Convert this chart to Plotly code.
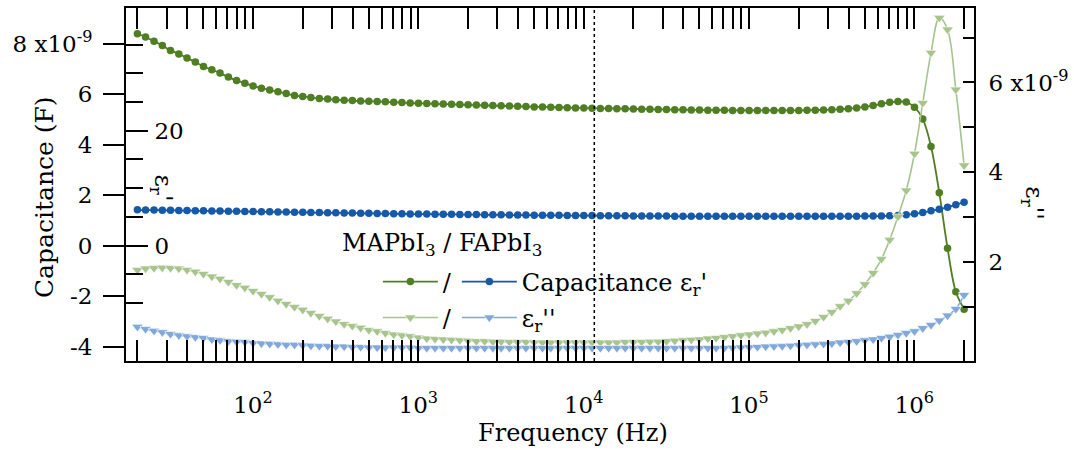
import plotly.graph_objects as go

# ---------------- data ----------------
freq_hz = [
    20.0, 22.4, 25.2, 28.3, 31.7, 35.6, 39.9, 44.8, 50.2, 56.4,
    63.2, 71.0, 79.6, 89.3, 100.2, 112.5, 126.2, 141.6, 158.9, 178.3,
    200, 224, 252, 283, 317, 356, 399, 448, 502, 564,
    632, 710, 796, 893, 1002, 1125, 1262, 1416, 1589, 1783,
    2000, 2244, 2518, 2825, 3170, 3557, 3991, 4477, 5024, 5637,
    6325, 7096, 7962, 8934, 10024, 11247, 12619, 14159, 15887, 17825,
    20000, 22440, 25179, 28251, 31698, 35566, 39905, 44774, 50238, 56368,
    63246, 70963, 79621, 89337, 100237, 112468, 126191, 141589, 158866, 178250,
    200000, 224404, 251785, 282508, 316979, 355656, 399052, 447744, 502377, 563677,
    632456, 709627, 796214, 893367, 1002374, 1124683, 1261915, 1415892, 1588656, 1782502,
    2000000,
]

# Capacitance (units of 1e-9 F)
cap_mapbi3 = [
    8.40, 8.27, 8.10, 7.93, 7.74, 7.60, 7.44, 7.28, 7.10, 6.97,
    6.84, 6.68, 6.55, 6.44, 6.33, 6.24, 6.17, 6.10, 6.03, 5.95,
    5.91, 5.87, 5.83, 5.81, 5.78, 5.76, 5.75, 5.73, 5.72, 5.71,
    5.70, 5.68, 5.67, 5.65, 5.64, 5.63, 5.62, 5.61, 5.60, 5.59,
    5.58, 5.57, 5.56, 5.55, 5.54, 5.53, 5.52, 5.51, 5.50, 5.50,
    5.49, 5.48, 5.47, 5.46, 5.46, 5.45, 5.44, 5.44, 5.43, 5.43,
    5.42, 5.41, 5.41, 5.40, 5.40, 5.39, 5.39, 5.38, 5.38, 5.37,
    5.37, 5.37, 5.36, 5.36, 5.36, 5.36, 5.36, 5.36, 5.36, 5.36,
    5.36, 5.37, 5.37, 5.38, 5.39, 5.41, 5.43, 5.46, 5.50, 5.55,
    5.62, 5.68, 5.71, 5.69, 5.49, 5.02, 3.93, 2.10, -0.10, -1.83,
    -2.52,
]
cap_fapbi3 = [
    1.42, 1.41, 1.41, 1.40, 1.40, 1.39, 1.39, 1.38, 1.38, 1.37,
    1.37, 1.36, 1.36, 1.35, 1.35, 1.34, 1.34, 1.33, 1.33, 1.32,
    1.32, 1.31, 1.31, 1.30, 1.30, 1.29, 1.29, 1.28, 1.28, 1.27,
    1.27, 1.26, 1.26, 1.25, 1.25, 1.25, 1.24, 1.24, 1.24, 1.23,
    1.23, 1.23, 1.22, 1.22, 1.22, 1.21, 1.21, 1.21, 1.20, 1.20,
    1.20, 1.20, 1.19, 1.19, 1.19, 1.19, 1.18, 1.18, 1.18, 1.18,
    1.17, 1.17, 1.17, 1.17, 1.17, 1.16, 1.16, 1.16, 1.16, 1.16,
    1.16, 1.16, 1.16, 1.16, 1.16, 1.16, 1.16, 1.16, 1.16, 1.16,
    1.16, 1.16, 1.16, 1.16, 1.16, 1.16, 1.16, 1.16, 1.17, 1.17,
    1.17, 1.18, 1.19, 1.22, 1.26, 1.31, 1.38, 1.44, 1.52, 1.62,
    1.72,
]

# epsilon_r'' (right axis, units of 1e-9)
eps2_mapbi3 = [
    1.82, 1.85, 1.86, 1.87, 1.86, 1.85, 1.82, 1.78, 1.73, 1.67,
    1.62, 1.55, 1.48, 1.42, 1.35, 1.28, 1.21, 1.13, 1.06, 0.99,
    0.93, 0.86, 0.79, 0.73, 0.67, 0.61, 0.57, 0.53, 0.48, 0.45,
    0.41, 0.38, 0.36, 0.34, 0.31, 0.29, 0.28, 0.27, 0.26, 0.25,
    0.24, 0.23, 0.23, 0.22, 0.22, 0.21, 0.21, 0.21, 0.20, 0.20,
    0.20, 0.20, 0.20, 0.20, 0.20, 0.20, 0.20, 0.20, 0.20, 0.21,
    0.21, 0.21, 0.22, 0.22, 0.23, 0.24, 0.25, 0.26, 0.27, 0.29,
    0.30, 0.32, 0.34, 0.36, 0.38, 0.40, 0.42, 0.45, 0.48, 0.52,
    0.56, 0.61, 0.68, 0.77, 0.88, 1.01, 1.13, 1.30, 1.50, 1.75,
    2.06, 2.49, 3.01, 3.59, 4.41, 5.54, 6.66, 7.44, 7.18, 5.84,
    4.15,
]
eps2_fapbi3 = [
    0.55, 0.50, 0.46, 0.43, 0.39, 0.36, 0.34, 0.32, 0.30, 0.27,
    0.25, 0.23, 0.22, 0.21, 0.19, 0.18, 0.17, 0.16, 0.15, 0.15,
    0.14, 0.13, 0.12, 0.12, 0.11, 0.11, 0.10, 0.10, 0.09, 0.09,
    0.09, 0.09, 0.09, 0.09, 0.08, 0.08, 0.08, 0.08, 0.08, 0.08,
    0.08, 0.08, 0.08, 0.08, 0.08, 0.08, 0.08, 0.08, 0.08, 0.08,
    0.08, 0.08, 0.08, 0.08, 0.08, 0.08, 0.08, 0.08, 0.08, 0.08,
    0.08, 0.08, 0.08, 0.08, 0.08, 0.08, 0.08, 0.08, 0.08, 0.08,
    0.08, 0.08, 0.085, 0.09, 0.095, 0.10, 0.11, 0.115, 0.12, 0.13,
    0.14, 0.15, 0.16, 0.17, 0.18, 0.20, 0.21, 0.23, 0.25, 0.27,
    0.30, 0.33, 0.37, 0.41, 0.45, 0.52, 0.59, 0.69, 0.80, 0.95,
    1.26,
]

marker_freq_hz = 11600

x_major_vals = [1e2, 1e3, 1e4, 1e5, 1e6]
x_major_text = ["10<sup>2</sup>", "10<sup>3</sup>", "10<sup>4</sup>", "10<sup>5</sup>", "10<sup>6</sup>"]
x_minor_vals = [m * 10 ** d for d in range(1, 7) for m in range(2, 10)]

left_vals = [-4, -2, 0, 2, 4, 6, 8]
left_text = ["-4", "-2", "0", "2", "4", "6", "8 x10<sup>-9</sup>"]
epsr1_vals = [0, 20]
epsr1_text = ["0", "20"]
epsr1_minor = [-10, -5, 5, 10, 15, 25, 30, 35]
right_vals = [2, 4, 6]
right_text = ["2", "4", "6 x10<sup>-9</sup>"]
right_minor = [1, 3, 5, 7]

# ---------------- style ----------------
FONT = "DejaVu Serif"
FS = 23
C_DG = "#4f7f22"
C_DB = "#1559a8"
C_LG = "#a6c48b"
C_LB = "#80a8da"

X_RANGE = [1.232, 6.361]
LEFT_RANGE = [-4.575, 9.42]
K_EPS = 20 / 4.552
RIGHT_RANGE = [-0.212, 7.66]

fig = go.Figure()

# circles on the base (left) capacitance axis
fig.add_trace(go.Scatter(
    x=freq_hz, y=cap_mapbi3, yaxis="y", mode="lines+markers",
    line=dict(color=C_DG, width=1.8, shape="spline"),
    marker=dict(symbol="circle", size=7.5, color=C_DG),
    name="/", legend="legend", legendrank=1,
))
fig.add_trace(go.Scatter(
    x=freq_hz, y=cap_fapbi3, yaxis="y", mode="lines+markers",
    line=dict(color=C_DB, width=1.8, shape="spline"),
    marker=dict(symbol="circle", size=7.5, color=C_DB),
    name="Capacitance ε<sub>r</sub>'", legend="legend", legendrank=2,
))
# triangles on the right epsilon_r'' axis
fig.add_trace(go.Scatter(
    x=freq_hz, y=eps2_mapbi3, yaxis="y2", mode="lines+markers",
    line=dict(color=C_LG, width=1.6, shape="spline"),
    marker=dict(symbol="triangle-down", size=10, color=C_LG, line=dict(color="white", width=0.6)),
    name="/", legend="legend2", legendrank=1,
))
fig.add_trace(go.Scatter(
    x=freq_hz, y=eps2_fapbi3, yaxis="y2", mode="lines+markers",
    line=dict(color=C_LB, width=1.6, shape="spline"),
    marker=dict(symbol="triangle-down", size=10, color=C_LB, line=dict(color="white", width=0.6)),
    name="ε<sub>r</sub>''", legend="legend2", legendrank=2,
))
# empty trace so the inner epsilon_r' axis is drawn
fig.add_trace(go.Scatter(x=[], y=[], yaxis="y3", showlegend=False, hoverinfo="skip"))

fig.add_shape(type="line", xref="x", yref="paper", x0=marker_freq_hz, x1=marker_freq_hz,
              y0=0, y1=1, line=dict(color="black", width=1.5, dash="dot"), layer="above")

axis_font = dict(family=FONT, size=FS, color="black")
text_font = dict(family=FONT, size=24, color="black")

fig.update_layout(
    width=1074, height=450,
    margin=dict(l=126, r=100, t=8, b=89, autoexpand=False),
    paper_bgcolor="white", plot_bgcolor="white",
    font=axis_font,
    xaxis=dict(
        type="log", range=X_RANGE, showgrid=False, zeroline=False,
        showline=True, linecolor="black", linewidth=2, mirror="allticks",
        ticks="inside", ticklen=21, tickwidth=2, tickcolor="black",
        tickmode="array", tickvals=x_major_vals, ticktext=x_major_text,
        ticklabelstandoff=22, tickfont=axis_font,
        minor=dict(tickmode="array", tickvals=x_minor_vals, ticks="inside",
                   ticklen=11, tickwidth=1.5, tickcolor="black", showgrid=False),
    ),
    yaxis=dict(
        side="left", range=LEFT_RANGE, showgrid=False, zeroline=False,
        showline=True, linecolor="black", linewidth=2,
        ticks="outside", ticklen=21, tickwidth=2, tickcolor="black",
        tickmode="array", tickvals=left_vals, ticktext=left_text,
        ticklabelstandoff=6, tickfont=axis_font,
    ),
    yaxis2=dict(
        overlaying="y", side="right", anchor="x", range=RIGHT_RANGE,
        showgrid=False, zeroline=False,
        showline=True, linecolor="black", linewidth=2,
        ticks="inside", ticklen=11, tickwidth=2, tickcolor="black",
        tickmode="array", tickvals=right_vals, ticktext=right_text,
        ticklabelstandoff=8, tickfont=axis_font,
        minor=dict(tickmode="array", tickvals=right_minor, ticks="inside",
                   ticklen=11, tickwidth=2, tickcolor="black", showgrid=False),
    ),
    yaxis3=dict(
        overlaying="y", side="left", anchor="x",
        range=[LEFT_RANGE[0] * K_EPS, LEFT_RANGE[1] * K_EPS],
        showgrid=False, zeroline=False, showline=False,
        ticks="inside", ticklen=22, tickwidth=2, tickcolor="black",
        tickmode="array", tickvals=epsr1_vals, ticktext=epsr1_text,
        ticklabelposition="inside", ticklabelstandoff=8, tickfont=axis_font,
        minor=dict(tickmode="array", tickvals=epsr1_minor, ticks="inside",
                   ticklen=17, tickwidth=2, tickcolor="black", showgrid=False),
    ),
    legend=dict(
        orientation="h", x=0.297, xanchor="left", y=0.224, yanchor="middle",
        bgcolor="rgba(0,0,0,0)", font=text_font, itemwidth=55,
        traceorder="normal", tracegroupgap=0, itemclick=False,
    ),
    legend2=dict(
        orientation="h", x=0.297, xanchor="left", y=0.122, yanchor="middle",
        bgcolor="rgba(0,0,0,0)", font=text_font, itemwidth=55,
        traceorder="normal", tracegroupgap=0, itemclick=False,
    ),
    annotations=[
        dict(text="MAPbI<sub>3</sub> / FAPbI<sub>3</sub>", xref="paper", yref="paper",
             x=0.2524, y=0.33, xanchor="left", yanchor="middle", showarrow=False, font=text_font),
        dict(text="Frequency (Hz)", xref="paper", yref="paper", x=0.527, y=-0.204,
             xanchor="center", yanchor="middle", showarrow=False, font=text_font),
        dict(text="Capacitance (F)", xref="paper", yref="paper", x=-0.0955, y=0.4646,
             xanchor="center", yanchor="middle", textangle=-90, showarrow=False,
             font=dict(family=FONT, size=25, color="black")),
        dict(text="ε<sub>r</sub>'", xref="paper", yref="paper", x=0.042, y=0.49,
             xanchor="center", yanchor="middle", textangle=90, showarrow=False, font=text_font),
        dict(text="ε<sub>r</sub>''", xref="paper", yref="paper", x=1.0695, y=0.447,
             xanchor="center", yanchor="middle", textangle=90, showarrow=False, font=text_font),
    ],
)

fig.write_html("out.html", post_script="document.body.style.margin='0';",
               config={"displayModeBar": False})
